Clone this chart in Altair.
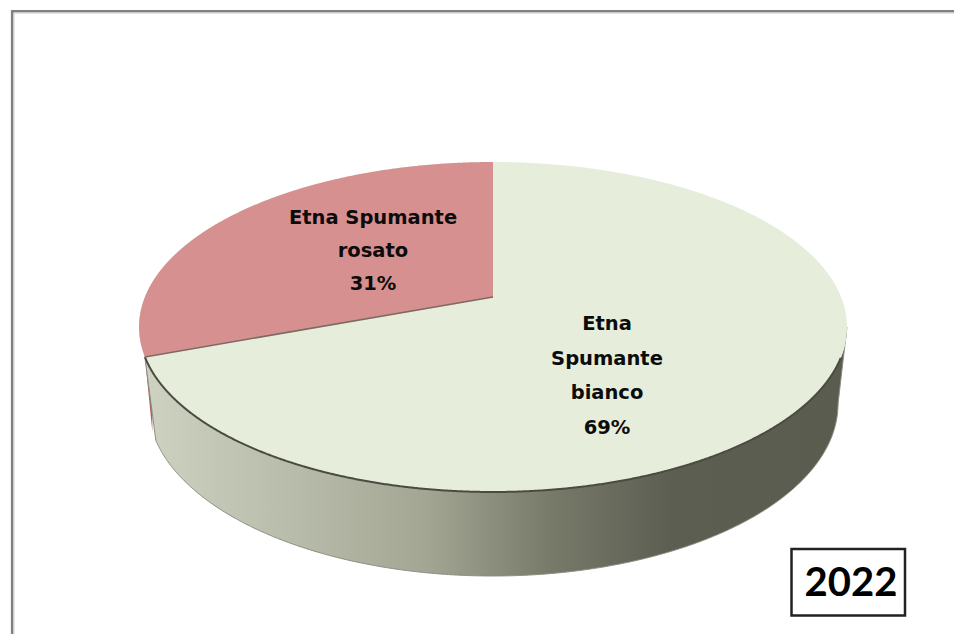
import math
import numpy as np
import pandas as pd
import altair as alt

categories = ["Etna Spumante bianco", "Etna Spumante rosato"]
shares = [69, 31]
year = "2022"
label_lines = [["Etna", "Spumante", "bianco", "69%"], ["Etna Spumante", "rosato", "31%"]]

# pie geometry, in picture units
CX, CY, RX, RY = 493, 327, 354, 165
APEX_Y = 297
LOW_CY, LOW_RX, LOW_RY = 404, 345, 172
FORESHORTEN = 0.9
theta = 2 * math.pi * shares[1] / 100 * FORESHORTEN
BX = CX - RX * math.sin(theta)
BY = CY - RY * math.cos(theta)

def upper(x):
    return CY - RY * np.sqrt(np.clip(1 - ((x - CX) / RX) ** 2, 0, 1))

def lower(x):
    return CY + RY * np.sqrt(np.clip(1 - ((x - CX) / RX) ** 2, 0, 1))

def low_curve(x):
    return LOW_CY + LOW_RY * np.sqrt(np.clip(1 - ((x - CX) / LOW_RX) ** 2, 0, 1))

t = np.linspace(0, math.pi, 721)
xs = CX - RX * np.cos(t)

x_scale = alt.Scale(domain=[8, 954], range=[0, 946])
y_scale = alt.Scale(domain=[8, 634], range=[0, 626])
X = alt.X("x:Q", scale=x_scale, axis=None)
Y = alt.Y("y:Q", scale=y_scale, axis=None)
Y2 = alt.Y2("y2")

# frame, running off the right and bottom of the picture
frame = alt.Chart(pd.DataFrame({"x": [12.2], "x2": [1000], "y": [11.3], "y2": [700]})).mark_rect(
    fill="white", stroke="#808080", strokeWidth=2.6, clip=True
).encode(X, alt.X2("x2"), Y, Y2)
frame_glow = alt.Chart(pd.DataFrame({"x": [14.2], "x2": [1000], "y": [13.4], "y2": [700]})).mark_rect(
    fill="white", stroke="#e2e2e2", strokeWidth=1.2, clip=True
).encode(X, alt.X2("x2"), Y, Y2)

# red sliver of wall
sx = np.linspace(BX - 3, BX + 7.5, 30)
sliver = alt.Chart(pd.DataFrame({
    "x": sx, "y": lower(sx) - 3, "y2": np.maximum(lower(sx) - 3, BY + (sx - BX) * 10)
})).mark_area(color="#a9605f").encode(X, Y, Y2)

# side wall
wx = xs[(xs >= BX) & (xs <= CX + RX)]
wb = low_curve(wx)
edge = BX + 11
mask_l = wx < edge
wb[mask_l] = np.interp(wx[mask_l], [BX, edge], [BY, float(low_curve(np.array([edge]))[0])])
edge_r = CX + LOW_RX
mask_r = wx > edge_r
wb[mask_r] = np.interp(wx[mask_r], [edge_r, CX + RX], [LOW_CY, CY])
wall_df = pd.DataFrame({"x": wx, "y": lower(wx), "y2": wb})
wall = alt.Chart(wall_df).mark_area(
    color=alt.Gradient(
        gradient="linear",
        stops=[
            alt.GradientStop(color="#cdd2c1", offset=0),
            alt.GradientStop(color="#b9bdab", offset=0.2),
            alt.GradientStop(color="#a3a693", offset=0.4),
            alt.GradientStop(color="#777969", offset=0.58),
            alt.GradientStop(color="#5c5e52", offset=0.75),
            alt.GradientStop(color="#5a5c50", offset=1),
        ],
        x1=0, x2=1, y1=0, y2=0,
    )
).encode(X, Y, Y2)
wall_edge = alt.Chart(wall_df).mark_line(color="#8a8c80", strokeWidth=1).encode(
    X, alt.Y("y2:Q", scale=y_scale, axis=None)
)

# top face
top = alt.Chart(pd.DataFrame({"x": xs, "y": upper(xs), "y2": lower(xs)})).mark_area(color="#e6edda").encode(X, Y, Y2)

# rosato slice
rx_ = xs[xs <= CX]
line_y = BY + (APEX_Y - BY) * (rx_ - BX) / (CX - BX)
ry2 = np.where(rx_ < BX, lower(rx_), line_y)
rosato = alt.Chart(pd.DataFrame({"x": rx_, "y": upper(rx_), "y2": ry2})).mark_area(color="#d79090").encode(X, Y, Y2)

# edges
rim = alt.Chart(wall_df[wall_df["x"] < CX + RX - 6]).mark_line(color="#4a4c42", strokeWidth=2).encode(X, Y)
seam = alt.Chart(pd.DataFrame({"x": [BX, CX], "y": [BY, APEX_Y]})).mark_line(color="#7d6a62", strokeWidth=1.5).encode(X, Y)

# labels
def labels(lines, cx, y0, dy):
    return pd.DataFrame({"x": [cx] * len(lines), "y": [y0 + i * dy for i in range(len(lines))], "t": lines})

lab_df = pd.concat([labels(label_lines[0], 607, 324, 34.5), labels(label_lines[1], 373, 218, 33)])
text = alt.Chart(lab_df).mark_text(
    font="DejaVu Sans", fontSize=19.5, fontWeight="bold", color="#0c0c0c", align="center", baseline="middle"
).encode(X, Y, text="t:N")

# year box
box = alt.Chart(pd.DataFrame({"x": [791.5], "x2": [905], "y": [549], "y2": [615.5]})).mark_rect(
    fill="white", stroke="#222222", strokeWidth=2.5
).encode(X, alt.X2("x2"), Y, Y2)
year_text = alt.Chart(pd.DataFrame({"x": [851], "y": [584], "t": [year]})).mark_text(
    font="Lato", fontSize=40, fontWeight="bold", color="#000000", align="center", baseline="middle"
).encode(X, Y, text="t:N")

chart = alt.layer(frame, frame_glow, sliver, wall, wall_edge, top, rosato, rim, seam, text, box, year_text).properties(
    width=946, height=626, padding=0, autosize=alt.AutoSizeParams(type="none")
).configure_view(stroke=None)

chart.save("out.html", embed_options={"renderer": "svg", "actions": False})
